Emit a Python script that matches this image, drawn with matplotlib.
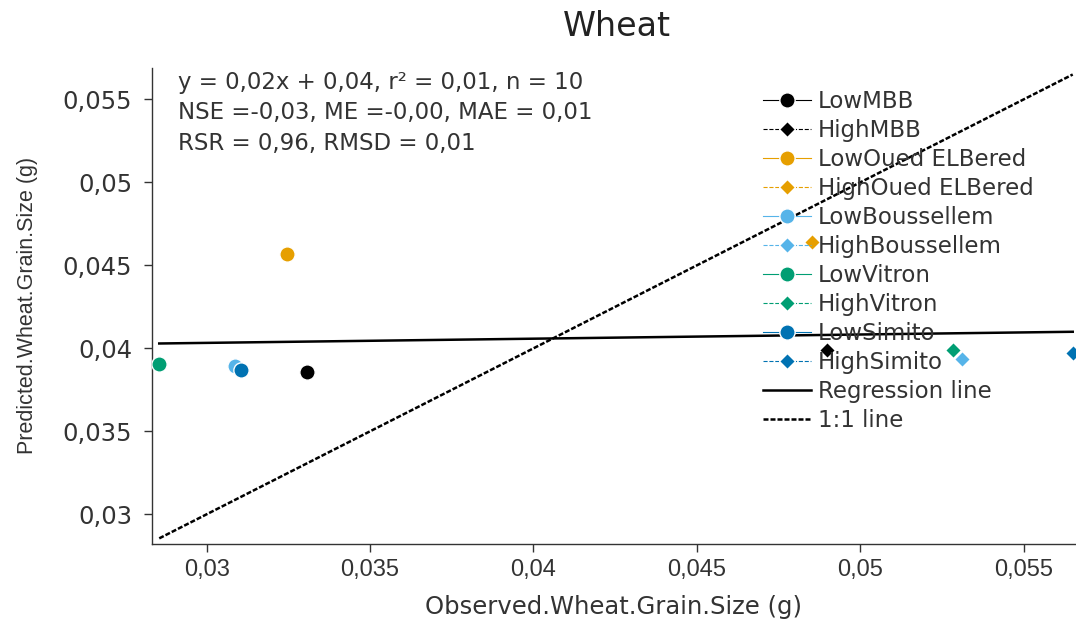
import numpy as np
import matplotlib
matplotlib.use("Agg")
import matplotlib.pyplot as plt
from matplotlib.ticker import FuncFormatter

# Observed vs predicted wheat grain size (g) per site and input level
series_names = ["LowMBB", "HighMBB", "LowOued ELBered", "HighOued ELBered",
                "LowBoussellem", "HighBoussellem", "LowVitron", "HighVitron",
                "LowSimito", "HighSimito"]
observed = [0.03306, 0.04897, 0.03245, 0.04851, 0.03086,
            0.05312, 0.02855, 0.05285, 0.03105, 0.05650]
predicted = [0.03857, 0.03990, 0.04568, 0.04640, 0.03893,
             0.03936, 0.03905, 0.03990, 0.03870, 0.03972]

stats_lines = ["y = 0,02x + 0,04, r² = 0,01, n = 10",
               "NSE =-0,03, ME =-0,00, MAE = 0,01",
               "RSR = 0,96, RMSD = 0,01"]
x_ticks = [0.03, 0.035, 0.04, 0.045, 0.05, 0.055]
y_ticks = [0.03, 0.035, 0.04, 0.045, 0.05, 0.055]

site_colors = ["#000000", "#000000", "#E69F00", "#E69F00", "#56B4E9",
               "#56B4E9", "#009E73", "#009E73", "#0072B2", "#0072B2"]

TEXT = "#333333"
MAIN_FONT = ["DejaVu Sans"]
NARROW_FONT = ["Liberation Sans", "DejaVu Sans"]

plt.rcParams["font.family"] = MAIN_FONT

fig = plt.figure(figsize=(10.76, 6.24), dpi=100)
ax = fig.add_axes([0.141, 0.129, 0.859, 0.762])

obs = np.array(observed)
pred = np.array(predicted)

for name, xo, yp, col in zip(series_names, observed, predicted, site_colors):
    is_low = name.startswith("Low")
    ax.plot([xo], [yp], linestyle="-" if is_low else "--", linewidth=0.8,
            color=col, marker="o" if is_low else "D",
            markersize=11 if is_low else 8, markeredgecolor="white",
            markeredgewidth=1.0, label=name, zorder=3, clip_on=True)

# least-squares regression line over the observed range
slope, intercept = np.polyfit(obs, pred, 1)
xr = np.array([obs.min(), obs.max()])
ax.plot(xr, slope * xr + intercept, color="black", linewidth=1.8,
        label="Regression line", zorder=2)

# 1:1 reference line
ax.plot(xr, xr, color="black", linewidth=1.8, linestyle=(0, (2.0, 0.8)),
        label="1:1 line", zorder=2)

ax.set_xlim(0.02832, 0.05660)
ax.set_ylim(0.02824, 0.05689)
ax.set_xticks(x_ticks)
ax.set_yticks(y_ticks)
comma = FuncFormatter(lambda v, p: f"{v:g}".replace(".", ","))
ax.xaxis.set_major_formatter(comma)
ax.yaxis.set_major_formatter(comma)

for s in ["top", "right"]:
    ax.spines[s].set_visible(False)
for s in ["left", "bottom"]:
    ax.spines[s].set_color(TEXT)
    ax.spines[s].set_linewidth(1.0)

ax.tick_params(direction="out", length=6, width=1, color=TEXT, labelcolor=TEXT)
ax.tick_params(axis="y", pad=8)
ax.tick_params(axis="x", pad=5)
for lab in ax.get_yticklabels():
    lab.set_fontsize(17.5)
    lab.set_family(MAIN_FONT)
for lab in ax.get_xticklabels():
    lab.set_fontsize(17)
    lab.set_family(NARROW_FONT)

ax.set_xlabel("Observed.Wheat.Grain.Size (g)", fontsize=17.5, color=TEXT,
              family=MAIN_FONT, labelpad=10)
ax.set_ylabel("Predicted.Wheat.Grain.Size (g)", fontsize=15.5, color=TEXT,
              family=NARROW_FONT, labelpad=18)
fig.text(0.573, 0.957, "Wheat", ha="center", va="center", fontsize=24,
         color="#222222")

ax.text(0.0285, 0.994, "\n".join(stats_lines), transform=ax.transAxes,
        ha="left", va="top", fontsize=16.5, color=TEXT, linespacing=1.42)

leg = ax.legend(loc="upper left", bbox_to_anchor=(0.661, 0.953),
                frameon=False, fontsize=16.5, labelspacing=0.26,
                handlelength=2.1, handletextpad=0.3, borderaxespad=0,
                borderpad=0)
for t in leg.get_texts():
    t.set_color(TEXT)

fig.savefig("out.png", dpi=100)
